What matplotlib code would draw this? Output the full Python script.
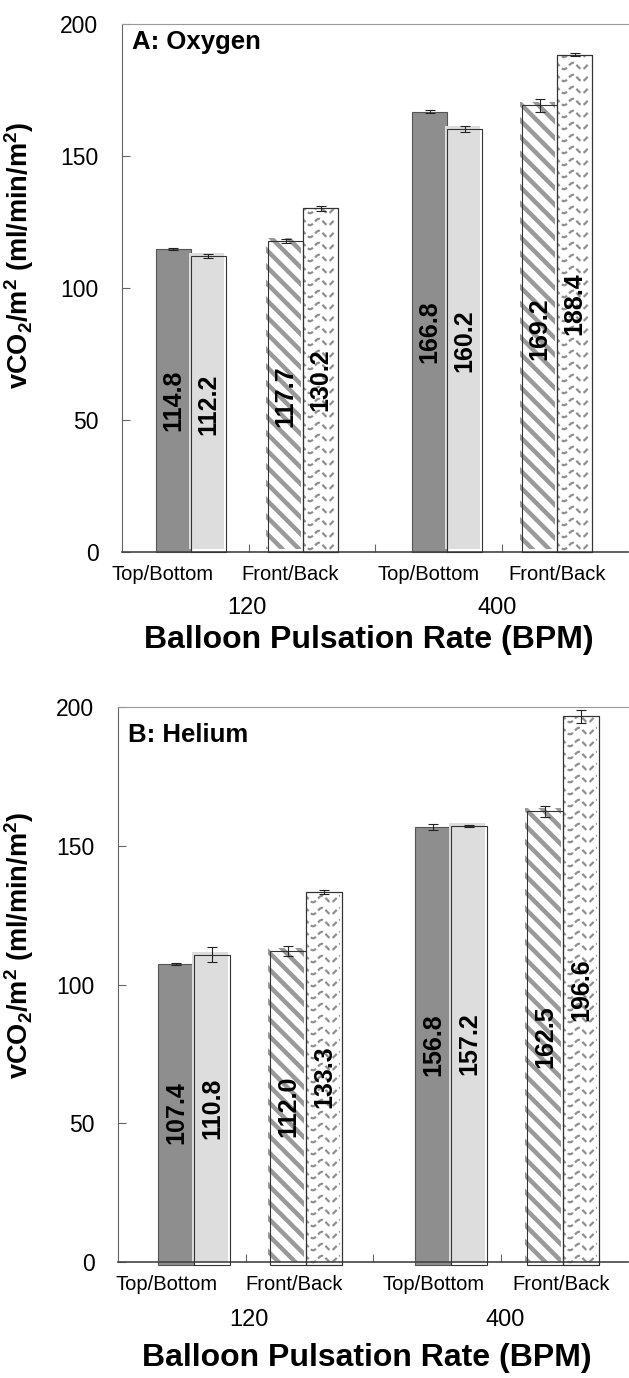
import numpy as np
import matplotlib
matplotlib.use("Agg")
import matplotlib.pyplot as plt
from matplotlib.transforms import ScaledTranslation

plt.rcParams['font.family'] = ['Liberation Sans', 'DejaVu Sans']
plt.rcParams['mathtext.fontset'] = 'custom'
plt.rcParams['mathtext.rm'] = 'Liberation Sans'
plt.rcParams['mathtext.bf'] = 'Liberation Sans:bold'
plt.rcParams['hatch.linewidth'] = 3.2
plt.rcParams['hatch.color'] = '#999999'

# groups, left to right: 120 Top/Bottom, 120 Front/Back, 400 Top/Bottom, 400 Front/Back
rates = ['120', '400']
orientations = ['Top/Bottom', 'Front/Back', 'Top/Bottom', 'Front/Back']

oxy_first = [114.8, 117.7, 166.8, 169.2]
oxy_second = [112.2, 130.2, 160.2, 188.4]
oxy_first_err = [0.5, 0.8, 0.7, 2.4]
oxy_second_err = [0.8, 1.0, 1.2, 0.6]

he_first = [107.4, 112.0, 156.8, 162.5]
he_second = [110.8, 133.3, 157.2, 196.6]
he_first_err = [0.5, 1.8, 1.0, 2.0]
he_second_err = [2.6, 0.8, 0.4, 2.2]

DPI = 100
fig = plt.figure(figsize=(6.29, 13.78), dpi=DPI)


def px(ax):
    bb = ax.get_window_extent()
    return 4 / bb.width, 200 / bb.height


def wave_texture(ax, x0, w, top, bottom, clip):
    sx, sy = px(ax)
    xs = np.linspace(x0, x0 + w, 200)
    ph = (xs - x0) / (18 * sx) * 2 * np.pi
    for y0 in np.arange(bottom + 6 * sy, top + 12 * sy, 12 * sy):
        ln, = ax.plot(xs, y0 + 3.2 * sy * np.cos(ph), color='#8f8f8f',
                      lw=1.6, ls=(0, (2.6, 1.4)), zorder=2)
        ln.set_clip_path(clip)


def panel(ax, title, first, second, first_err, second_err,
          centers, w, cat_x, rate_x, offs, base, title_y):
    ax.set_xlim(0, 4)
    ax.set_ylim(0, 200)
    shift = ax.transData + ScaledTranslation(-2 / DPI, 3 / DPI, fig.dpi_scale_trans)
    sx, sy = px(ax)

    for i in range(4):
        xa = centers[i] - w / 2
        xb = centers[i] + w / 2
        va, vb = first[i], second[i]
        if i % 2 == 0:
            ax.bar(xa, va - base, w, bottom=base, color='#8e8e8e',
                   edgecolor='#555555', lw=0.8, clip_on=False, zorder=1)
            f = ax.bar(xb, vb - base, w, bottom=base, color='#dddddd', lw=0,
                       clip_on=False, zorder=1)[0]
            f.set_transform(shift)
            ax.bar(xb, vb - base, w, bottom=base, fill=False,
                   edgecolor='#333333', lw=0.8, clip_on=False, zorder=3)
        else:
            h = ax.bar(xa, va - base, w, bottom=base, facecolor='none',
                       edgecolor='#999999', hatch='\\\\', lw=0, clip_on=False, zorder=1)[0]
            h.set_transform(shift)
            ax.bar(xa, va - base, w, bottom=base, fill=False,
                   edgecolor='#333333', lw=0.8, clip_on=False, zorder=3)
            o = ax.bar(xb, vb - base, w, bottom=base, color='white',
                       edgecolor='#333333', lw=0.8, clip_on=False, zorder=1)[0]
            wave_texture(ax, xb - w / 2 - 2 * sx, w, vb + 3 * sy, base, o)
            ax.bar(xb, vb - base, w, bottom=base, fill=False,
                   edgecolor='#333333', lw=0.8, clip_on=False, zorder=3)
        ax.errorbar([xa, xb], [va, vb], yerr=[first_err[i], second_err[i]],
                    fmt='none', ecolor='#222222', elinewidth=0.8, capsize=3.5,
                    capthick=0.8, zorder=4)
        for x, v in ((xa, va), (xb, vb)):
            ax.text(x, v / 2, f"{v:.1f}", rotation=90, ha='center', va='center',
                    fontsize=18, fontweight='bold', zorder=5)

    ax.set_yticks([0, 50, 100, 150, 200])
    ax.tick_params(axis='y', direction='in', length=6, width=0.8, color='#666666',
                   labelsize=16.5, pad=17)
    ax.set_xticks([1, 2, 3])
    ax.set_xticklabels([])
    ax.tick_params(axis='x', direction='in', length=6, width=0.8, color='#666666')

    ax.spines['right'].set_visible(False)
    ax.spines['top'].set_color('#999999')
    ax.spines['left'].set_color('#666666')
    ax.spines['bottom'].set_color('#444444')
    ax.spines['bottom'].set_linewidth(1.2)

    for x, lab in zip(cat_x, orientations):
        ax.annotate(lab, xy=(x, 0), xycoords=('data', 'axes fraction'),
                    xytext=(0, -offs[0]), textcoords='offset pixels',
                    ha='center', va='center', fontsize=14.5)
    for x, lab in zip(rate_x, rates):
        ax.annotate(lab, xy=(x, 0), xycoords=('data', 'axes fraction'),
                    xytext=(0, -offs[1]), textcoords='offset pixels',
                    ha='center', va='center', fontsize=17)
    ax.annotate('Balloon Pulsation Rate (BPM)', xy=(1.95, 0),
                xycoords=('data', 'axes fraction'), xytext=(0, -offs[2]),
                textcoords='offset pixels', ha='center', va='center',
                fontsize=23, fontweight='bold')

    ax.text(0.02, title_y, title, transform=ax.transAxes, ha='left', va='center',
            fontsize=18.5, fontweight='bold')
    ax.set_ylabel(r'vCO$_{\mathbf{2}}$/m$^{\mathbf{2}}$ (ml/min/m$^{\mathbf{2}}$)',
                  fontsize=19.5, fontweight='bold')


W, H = 629, 1378
ax_a = fig.add_axes([122 / W, 1 - 552 / H, 506 / W, 528 / H])
ax_b = fig.add_axes([118 / W, 1 - 1262 / H, 510 / W, 555 / H])

panel(ax_a, 'A: Oxygen', oxy_first, oxy_second, oxy_first_err, oxy_second_err,
      centers=[0.545, 1.431, 2.57, 3.439], w=0.277,
      cat_x=[0.324, 1.328, 2.427, 3.439], rate_x=[0.988, 2.964],
      offs=(23, 56, 88), base=0, title_y=0.965)
ax_a.yaxis.set_label_coords(-0.170, 0.5625)

panel(ax_b, 'B: Helium', he_first, he_second, he_first_err, he_second_err,
      centers=[0.596, 1.475, 2.612, 3.49], w=0.282,
      cat_x=[0.384, 1.38, 2.478, 3.475], rate_x=[1.03, 3.04],
      offs=(23, 58, 96), base=-1.1, title_y=0.95)
ax_b.yaxis.set_label_coords(-0.161, 0.571)

fig.savefig('out.png', dpi=DPI)
